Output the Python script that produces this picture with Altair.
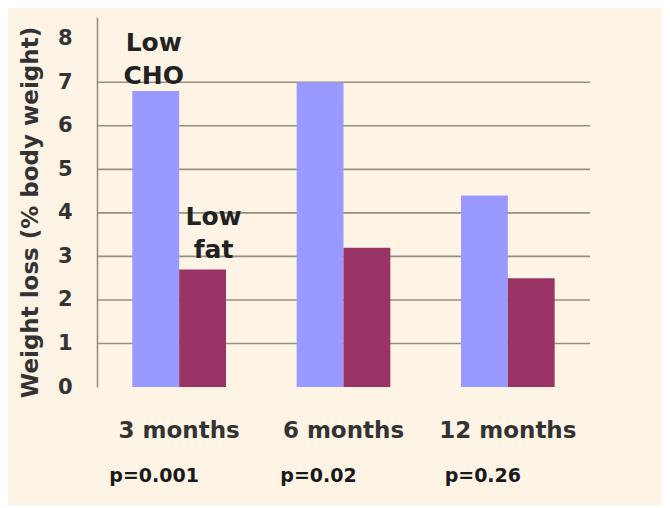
import altair as alt
import pandas as pd

months = ["3 months", "6 months", "12 months"]
diets = ["Low CHO", "Low fat"]
low_cho = [6.8, 7.0, 4.4]
low_fat = [2.7, 3.2, 2.5]
p_values = ["p=0.001", "p=0.02", "p=0.26"]
y_ticks = [0, 1, 2, 3, 4, 5, 6, 7, 8]
grid_values = [1, 2, 3, 4, 5, 6, 7]
bar_colors = ["#9999FF", "#993366"]

FONT = "DejaVu Sans"
BG = "#FDF4E5"

bars_df = pd.DataFrame(
    [{"month": m, "diet": diets[0], "value": v} for m, v in zip(months, low_cho)]
    + [{"month": m, "diet": diets[1], "value": v} for m, v in zip(months, low_fat)]
)
grid_df = pd.DataFrame({"value": grid_values})
p_df = pd.DataFrame({"month": months, "p": p_values})
ann_cho = pd.DataFrame({"month": [months[0]], "diet": [diets[0]], "value": [low_cho[0]], "label": ["Low\nCHO"]})
ann_fat = pd.DataFrame({"month": [months[0]], "diet": [diets[1]], "value": [low_fat[0]], "label": ["Low\nfat"]})

yscale = alt.Scale(domain=[0, 8.5], nice=False, zero=True)
xscale = alt.Scale(domain=months, paddingInner=0.43, paddingOuter=0.215)
off_scale = alt.Scale(domain=diets, paddingInner=0, paddingOuter=0)

x_axis = alt.Axis(
    title=None,
    labelAngle=0,
    domain=False,
    ticks=False,
    labelPadding=32,
    labelFont=FONT,
    labelFontSize=23,
    labelFontWeight="bold",
    labelColor="#333333",
)
y_axis = alt.Axis(
    values=y_ticks,
    grid=False,
    ticks=False,
    domainColor="#978f7f",
    domainWidth=1.6,
    labelPadding=25,
    labelFont=FONT,
    labelFontSize=21,
    labelFontWeight="bold",
    labelColor="#333333",
    title="Weight loss (% body weight)",
    titleFont=FONT,
    titleFontSize=23,
    titleFontWeight="bold",
    titleColor="#333333",
    titleX=-67,
    titleY=195,
    titleBaseline="middle",
    titleAngle=-90,
)

bars = alt.Chart(bars_df).mark_bar(strokeWidth=0).encode(
    x=alt.X("month:N", sort=months, scale=xscale, axis=x_axis),
    xOffset=alt.XOffset("diet:N", sort=diets, scale=off_scale),
    y=alt.Y("value:Q", scale=yscale, axis=y_axis),
    color=alt.Color("diet:N", scale=alt.Scale(domain=diets, range=bar_colors), legend=None),
)

grid = alt.Chart(grid_df).mark_rule(color="#978f7f", strokeWidth=1.6).encode(
    y=alt.Y("value:Q", scale=yscale, axis=y_axis)
)

def annotation(df, dx, dy):
    return alt.Chart(df).mark_text(
        font=FONT, fontSize=25, fontWeight="bold", color="#222222",
        align="center", baseline="alphabetic", lineBreak="\n", lineHeight=33,
        dx=dx, dy=dy,
    ).encode(
        x=alt.X("month:N", sort=months, scale=xscale, axis=x_axis),
        xOffset=alt.XOffset("diet:N", sort=diets, scale=off_scale),
        y=alt.Y("value:Q", scale=yscale, axis=y_axis),
        text="label:N",
    )

ann1 = annotation(ann_cho, -2, -40)
ann2 = annotation(ann_fat, 11, -44)

pvals = alt.Chart(p_df).mark_text(
    font=FONT, fontSize=19, fontWeight="bold", color="#1a1a1a",
    align="center", baseline="alphabetic", dx=-25,
).encode(
    x=alt.X("month:N", sort=months, scale=xscale, axis=x_axis),
    y=alt.value(465),
    text="p:N",
)

chart = alt.layer(grid, bars, ann1, ann2, pvals).properties(
    width=493,
    height=370,
    background=BG,
    padding={"left": 89, "top": 9, "right": 72, "bottom": 118},
    autosize=alt.AutoSizeParams(type="none"),
).configure_view(stroke=None)

chart.save("out.html", embed_options={"renderer": "svg", "actions": False})
